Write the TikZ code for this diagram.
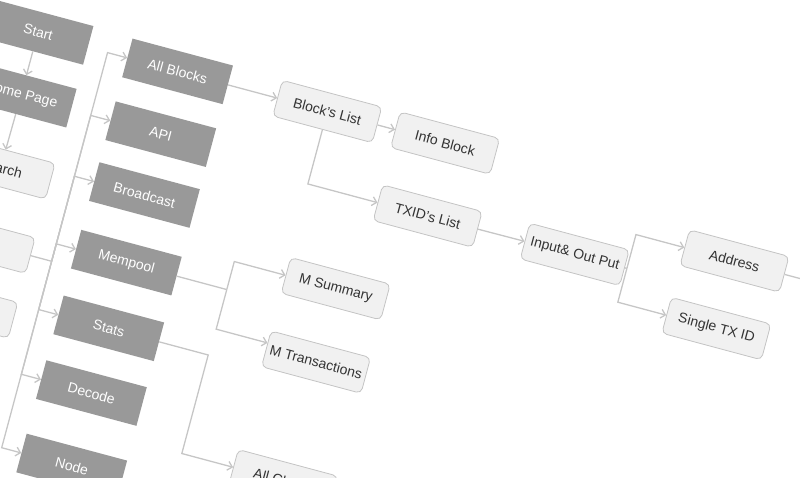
\documentclass[tikz,border=0pt]{standalone}
\usepackage{fontspec}
\setmainfont{Liberation Sans}
\usetikzlibrary{arrows.meta}
\definecolor{linegray}{HTML}{C6C6C6}
\definecolor{darkfill}{HTML}{999999}
\definecolor{lightfill}{HTML}{F1F1F1}
\definecolor{lightborder}{HTML}{C4C4C4}
\definecolor{textgray}{HTML}{333333}
\tikzstyle{pagebox}=[rectangle,fill=darkfill,text=white,minimum width=104pt,minimum height=40pt,inner sep=0pt,font=\fontsize{14}{16}\selectfont]
\tikzstyle{viewbox}=[rectangle,rounded corners=5pt,draw=lightborder,line width=0.8pt,fill=lightfill,text=textgray,minimum width=103pt,minimum height=37pt,inner sep=0pt,font=\fontsize{14}{16}\selectfont]
\tikzstyle{plainline}=[draw=linegray,line width=1.3pt]
\tikzstyle{arrowline}=[plainline,-{Straight Barb[length=4.5pt,width=9pt]}]

\begin{document}
\begin{tikzpicture}[x=1pt,y=-1pt]
\useasboundingbox (0,0) rectangle (800,478);
\clip (0,0) rectangle (800,478);
\begin{scope}[rotate=-15,transform shape]
\node[pagebox] (start) at (45,21) {Start};
\node[pagebox] (home) at (45,86) {Home Page};
\node[viewbox] (search) at (44,162) {Search};
\node[viewbox] (lbox2) at (44,239) {};
\node[viewbox] (lbox3) at (44,306) {};

\node[pagebox] (allb) at (190,23) {All Blocks};
\node[pagebox] (api) at (190,88) {API};
\node[pagebox] (bcast) at (190,151) {Broadcast};
\node[pagebox] (mem) at (190,221) {Mempool};
\node[pagebox] (stats) at (190,289) {Stats};
\node[pagebox] (decode) at (190,356) {Decode};
\node[pagebox] (nodeb) at (190,432) {Node};

\node[viewbox] (blist) at (345,23) {Block’s List};
\node[viewbox] (info) at (467,23) {Info Block};
\node[viewbox] (txid) at (469,98) {TXID’s List};
\node[viewbox] (inout) at (621,97) {Input\& Out Put};
\node[viewbox] (addr) at (777,62) {Address};
\node[viewbox] (single) at (777,132) {Single TX ID};
\node[viewbox] (msum) at (399,192) {M Summary};
\node[viewbox] (mtx) at (399,268) {M Transactions};
\node[viewbox] (allch) at (398,391) {All Charts};

\coordinate (tj) at (117.5,239);
\coordinate (mfork) at (294,221);
\coordinate (sfork) at (293,289);
\coordinate (iofork) at (675,97);
\coordinate (offright) at (880,62);

\draw[arrowline] (start) -- (home);
\draw[arrowline] (home) -- (search);
\draw[plainline] (lbox2.east) -- (tj);
\draw[arrowline] (tj) |- (allb.west);
\draw[arrowline] (tj) |- (api.west);
\draw[arrowline] (tj) |- (bcast.west);
\draw[arrowline] (tj) |- (mem.west);
\draw[arrowline] (tj) |- (stats.west);
\draw[arrowline] (tj) |- (decode.west);
\draw[arrowline] (tj) |- (nodeb.west);

\draw[arrowline] (allb) -- (blist);
\draw[arrowline] (blist) -- (info);
\draw[arrowline] (blist.south) |- (txid.west);
\draw[arrowline] (txid) -- (inout);
\draw[plainline] (inout.east) -- (iofork);
\draw[arrowline] (iofork) |- (addr.west);
\draw[arrowline] (iofork) |- (single.west);
\draw[plainline] (addr.east) -- (offright);

\draw[plainline] (mem.east) -- (mfork);
\draw[arrowline] (mfork) |- (msum.west);
\draw[arrowline] (mfork) |- ([yshift=6pt]mtx.west);
\draw[arrowline] (stats.east) -- (sfork) |- (allch.west);
\end{scope}
\end{tikzpicture}
\end{document}
